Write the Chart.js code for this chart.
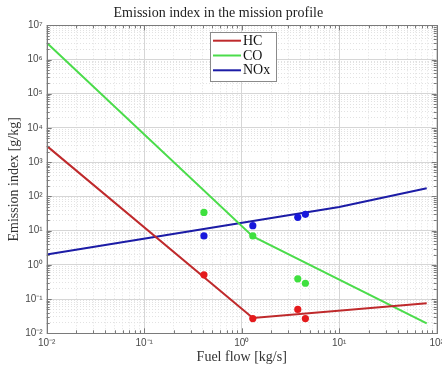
<!DOCTYPE html>
<html>
<head>
<meta charset="utf-8">
<script src="https://cdn.jsdelivr.net/npm/chart.js@4/dist/chart.umd.min.js"></script>
<style>
  html, body { margin: 0; padding: 0; background: #ffffff; }
  #wrap { position: relative; width: 442px; height: 367px; }
</style>
</head>
<body>
<div id="wrap"><canvas id="c" width="442" height="367"></canvas></div>
<script>
// ---- data ----
const seriesNames = ['HC', 'CO', 'NOx'];
const fuelFlowDots = [0.41, 1.3, 3.76, 4.5];
const hcDots  = [0.51, 0.027, 0.05, 0.027];
const coDots  = [34, 7, 0.39, 0.29];
const noxDots = [7, 14, 24.5, 30];

const hcLineX  = [0.01, 1.3, 79];
const hcLineY  = [3000, 0.028, 0.075];
const coLineX  = [0.01, 1.3, 79];
const coLineY  = [3.1e6, 6.8, 0.0195];
const noxLineX = [0.01, 10, 79];
const noxLineY = [2.0, 49, 173];

const xTickExponents = [-2, -1, 0, 1, 2];
const yTickExponents = [-2, -1, 0, 1, 2, 3, 4, 5, 6, 7];

const lineColors = ['#bf2a2c', '#4bdc4b', '#1c1ca6'];
const dotColors  = ['#e41a1c', '#3fe03f', '#1818dc'];

// ---- helpers ----
const sup = {'-':'⁻','0':'⁰','1':'¹','2':'²','3':'³','4':'⁴','5':'⁵','6':'⁶','7':'⁷','8':'⁸','9':'⁹'};
function powLabel(e) { return '10' + String(e).split('').map(ch => sup[ch]).join(''); }
function pts(xs, ys) { return xs.map((x, i) => ({x: x, y: ys[i]})); }
function logTicks(exps) {
  const out = [];
  for (let k = 0; k < exps.length; k++) {
    const e = exps[k];
    out.push({value: Math.pow(10, e), major: true});
    if (k < exps.length - 1) {
      for (let m = 2; m <= 9; m++) out.push({value: m * Math.pow(10, e), major: false});
    }
  }
  return out;
}
function isPow10(v) {
  const l = Math.log10(v);
  return Math.abs(l - Math.round(l)) < 1e-9;
}

const lineSets = [pts(hcLineX, hcLineY), pts(coLineX, coLineY), pts(noxLineX, noxLineY)];
const dotSets  = [pts(fuelFlowDots, hcDots), pts(fuelFlowDots, coDots), pts(fuelFlowDots, noxDots)];

const datasets = [];
for (let i = 0; i < 3; i++) {
  datasets.push({
    label: seriesNames[i],
    data: lineSets[i],
    showLine: true,
    borderColor: lineColors[i],
    backgroundColor: lineColors[i],
    borderWidth: 2,
    pointRadius: 0,
    pointHoverRadius: 0,
    fill: false,
    order: 2
  });
}
for (let i = 0; i < 3; i++) {
  datasets.push({
    label: seriesNames[i] + ' points',
    data: dotSets[i],
    showLine: false,
    pointRadius: 3.6,
    pointBorderWidth: 0,
    pointBackgroundColor: dotColors[i],
    pointBorderColor: dotColors[i],
    order: 1
  });
}

const gridColor = ctx => (ctx.tick && ctx.tick.major) ? '#d6d6d6' : '#e2e2e2';
const gridDash  = ctx => (ctx.tick && ctx.tick.major) ? [] : [1, 2];

// frame, inner tick marks and in-plot legend
const framePlugin = {
  id: 'frame',
  afterDatasetsDraw(chart) {
    const {ctx, chartArea: a, scales} = chart;
    ctx.save();
    ctx.strokeStyle = '#7a7a7a';
    ctx.lineWidth = 1;
    // inner tick marks
    ctx.beginPath();
    scales.x.ticks.forEach(t => {
      const px = Math.round(scales.x.getPixelForValue(t.value)) + 0.5;
      const len = t.major ? 5 : 3;
      ctx.moveTo(px, a.bottom); ctx.lineTo(px, a.bottom - len);
      ctx.moveTo(px, a.top); ctx.lineTo(px, a.top + len);
    });
    scales.y.ticks.forEach(t => {
      const py = Math.round(scales.y.getPixelForValue(t.value)) + 0.5;
      const len = t.major ? 5 : 3;
      ctx.moveTo(a.left, py); ctx.lineTo(a.left + len, py);
      ctx.moveTo(a.right, py); ctx.lineTo(a.right - len, py);
    });
    ctx.stroke();
    ctx.strokeRect(Math.round(a.left) + 0.5, Math.round(a.top) + 0.5,
                   Math.round(a.right - a.left), Math.round(a.bottom - a.top));

    // legend box inside plot
    const bx = 210.5, by = 32.5, bw = 66, bh = 49;
    ctx.fillStyle = '#ffffff';
    ctx.fillRect(bx, by, bw, bh);
    ctx.strokeStyle = '#8a8a8a';
    ctx.strokeRect(bx, by, bw, bh);
    ctx.font = '14px "Liberation Serif", serif';
    ctx.textBaseline = 'middle';
    ctx.textAlign = 'left';
    for (let i = 0; i < 3; i++) {
      const yy = 40.7 + i * 14.8;
      ctx.strokeStyle = lineColors[i];
      ctx.lineWidth = 2;
      ctx.beginPath();
      ctx.moveTo(213, yy); ctx.lineTo(241, yy);
      ctx.stroke();
      ctx.fillStyle = '#111111';
      ctx.fillText(seriesNames[i], 243, yy + 0.5);
    }
    ctx.restore();
  }
};

new Chart(document.getElementById('c'), {
  type: 'scatter',
  data: { datasets: datasets },
  plugins: [framePlugin],
  options: {
    responsive: false,
    animation: false,
    events: [],
    layout: { padding: { left: 0, right: 5.3, top: 0, bottom: 0 } },
    plugins: {
      legend: { display: false },
      tooltip: { enabled: false },
      title: {
        display: true,
        text: 'Emission index in the mission profile',
        color: '#222222',
        font: { family: '"Liberation Serif", serif', size: 14, weight: 'normal' },
        padding: { top: 5, bottom: 3.5 }
      }
    },
    scales: {
      x: {
        type: 'logarithmic',
        min: 0.01, max: 100,
        afterBuildTicks(scale) { scale.ticks = logTicks(xTickExponents); },
        afterFit(scale) { scale.height = 33.7; scale.paddingLeft = 0; scale.paddingRight = 0; },
        ticks: {
          autoSkip: false, maxRotation: 0, minRotation: 0, padding: 4,
          color: '#4a4a4a',
          font: { family: '"Liberation Sans", sans-serif', size: 10 },
          callback: v => isPow10(v) ? powLabel(Math.round(Math.log10(v))) : ''
        },
        grid: { color: gridColor, lineWidth: 1, drawTicks: false },
        border: { display: false, dash: gridDash },
        title: {
          display: true, text: 'Fuel flow [kg/s]', color: '#333333',
          font: { family: '"Liberation Serif", serif', size: 14 },
          padding: { top: 0, bottom: 1 }
        }
      },
      y: {
        type: 'logarithmic',
        min: 0.01, max: 1e7,
        afterBuildTicks(scale) { scale.ticks = logTicks(yTickExponents); },
        afterFit(scale) { scale.width = 46.7; scale.paddingTop = 0; scale.paddingBottom = 0; },
        ticks: {
          autoSkip: false, padding: 4,
          color: '#4a4a4a',
          font: { family: '"Liberation Sans", sans-serif', size: 10 },
          callback: v => isPow10(v) ? powLabel(Math.round(Math.log10(v))) : ''
        },
        grid: { color: gridColor, lineWidth: 1, drawTicks: false },
        border: { display: false, dash: gridDash },
        title: {
          display: true, text: 'Emission index [g/kg]', color: '#333333',
          font: { family: '"Liberation Serif", serif', size: 14 },
          padding: { top: 6, bottom: 0 }
        }
      }
    }
  }
});
</script>
</body>
</html>
